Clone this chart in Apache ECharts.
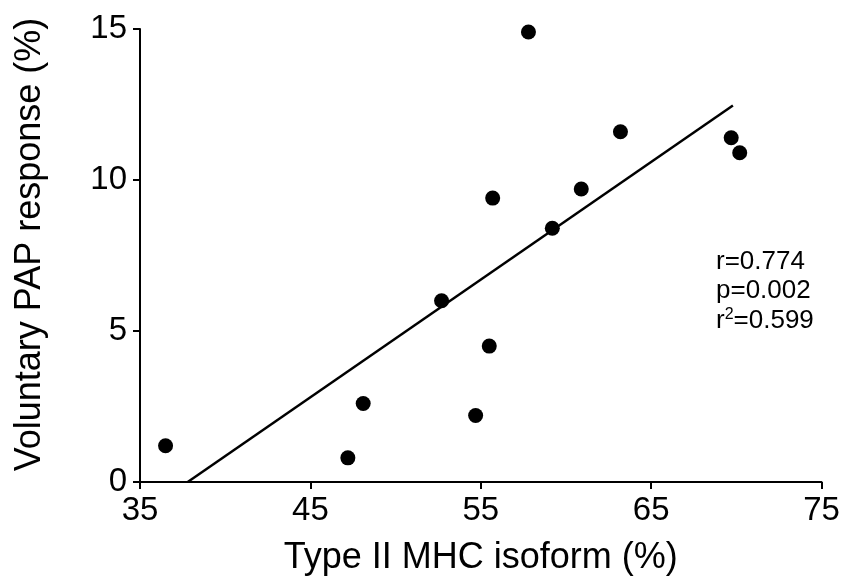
<!DOCTYPE html>
<html>
<head>
<meta charset="utf-8">
<script src="https://cdn.jsdelivr.net/npm/echarts@6/dist/echarts.min.js"></script>
<style>html,body{margin:0;padding:0;background:#fff}#c{width:843px;height:576px}</style>
</head>
<body>
<div id="c"></div>
<script>
const xVals = [36.5, 47.2, 48.1, 54.7, 55.5, 52.7, 55.7, 57.8, 59.2, 60.9, 63.2, 69.7, 70.2];
const yVals = [1.2, 0.8, 2.6, 2.2, 4.5, 6.0, 9.4, 14.9, 8.4, 9.7, 11.6, 11.4, 10.9];
const regX = [37.8, 69.8];
const regY = [0, 12.47];
const xTicks = [35, 45, 55, 65, 75];
const yTicks = [0, 5, 10, 15];
const statLines = ['r=0.774', 'p=0.002', 'r{sup|2}=0.599'];

const FONT = "'Liberation Sans', Arial, Helvetica, sans-serif";
const chart = echarts.init(document.getElementById('c'));
const points = xVals.map((x, i) => [x, yVals[i]]);
const line = regX.map((x, i) => [x, regY[i]]);

chart.setOption({
  animation: false,
  backgroundColor: '#fff',
  grid: { left: 140, right: 21.5, top: 29, bottom: 94, outerBoundsMode: 'none', containLabel: false },
  xAxis: {
    type: 'value', min: xTicks[0], max: xTicks[xTicks.length - 1], interval: 10,
    name: 'Type II MHC isoform (%)', nameLocation: 'middle', nameGap: 58,
    nameTextStyle: { fontFamily: FONT, fontSize: 36, color: '#000' },
    axisLine: { lineStyle: { color: '#000', width: 2 } },
    axisTick: { length: 7, lineStyle: { color: '#000', width: 2 } },
    axisLabel: { fontFamily: FONT, fontSize: 33, color: '#000', margin: 12 },
    splitLine: { show: false }
  },
  yAxis: {
    type: 'value', min: yTicks[0], max: yTicks[yTicks.length - 1], interval: 5,
    name: 'Voluntary PAP response (%)', nameLocation: 'middle', nameGap: 92,
    nameTextStyle: { fontFamily: FONT, fontSize: 36, color: '#000', padding: [0, 0, 0, 22] },
    axisLine: { lineStyle: { color: '#000', width: 2 } },
    axisTick: { length: 7, lineStyle: { color: '#000', width: 2 } },
    axisLabel: { fontFamily: FONT, fontSize: 33, color: '#000', margin: 13 },
    splitLine: { show: false }
  },
  series: [
    {
      type: 'line', data: line, symbol: 'none',
      lineStyle: { color: '#000', width: 2.5 }, z: 2
    },
    {
      type: 'scatter', data: points, symbol: 'circle', symbolSize: 15,
      itemStyle: { color: '#000', opacity: 1 }, z: 3
    }
  ],
  graphic: statLines.map((t, i) => ({
    type: 'text', left: 716, top: 249 + i * 29.3 - (i === 2 ? 1 : 0),
    style: {
      text: t, fontFamily: FONT, fontSize: 26, fill: '#000',
      rich: { sup: { fontFamily: FONT, fontSize: 16, verticalAlign: 'top', padding: [0, 0, 12, 0] } }
    }
  }))
});
</script>
</body>
</html>
